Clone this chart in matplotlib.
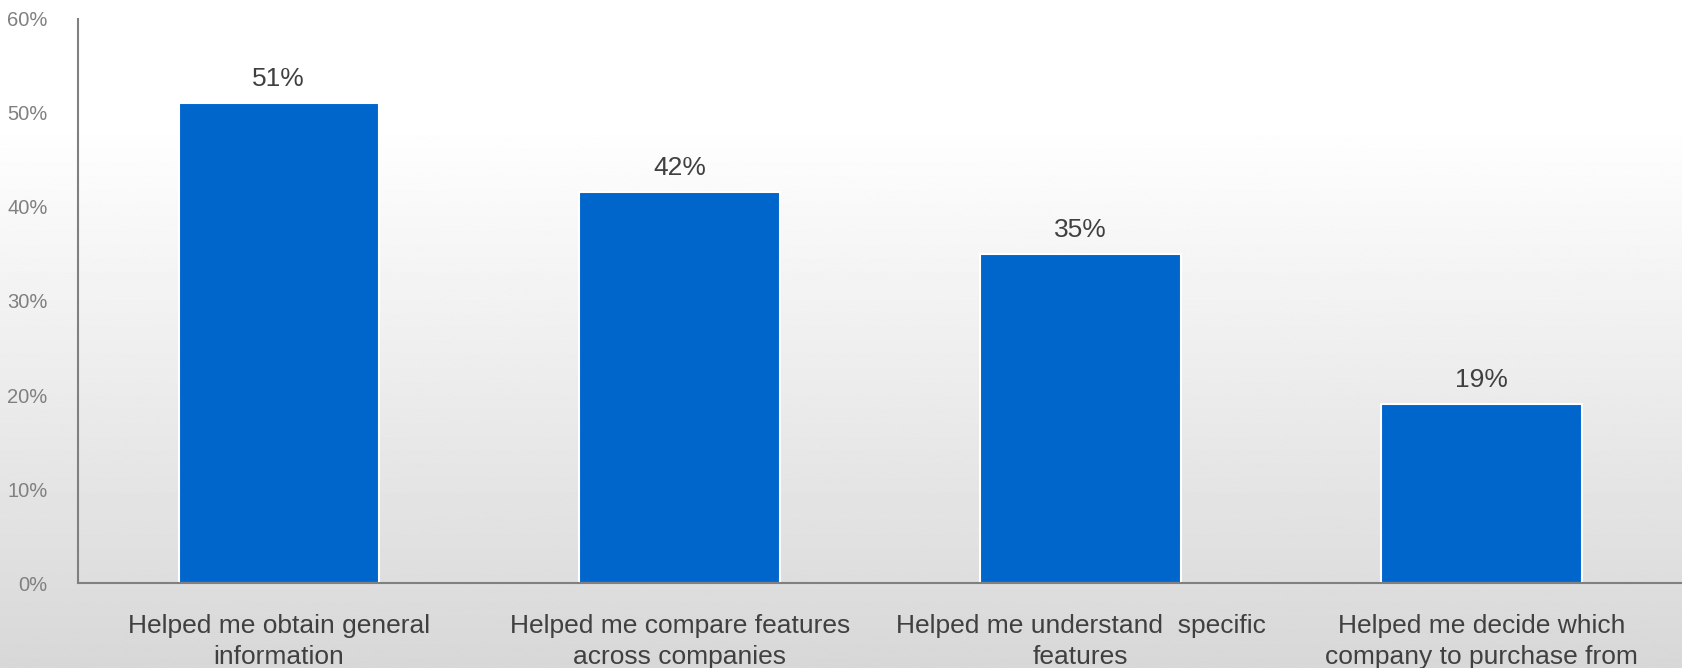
import numpy as np
import matplotlib.pyplot as plt
from matplotlib.ticker import FuncFormatter

# Dados do gráfico
categorias = ['Helped me obtain general\ninformation',
              'Helped me compare features\nacross companies',
              'Helped me understand  specific\nfeatures',
              'Helped me decide which\ncompany to purchase from']
valores = [51, 41.6, 35, 19]
rotulos = ['51%', '42%', '35%', '19%']
ticks_y = [0, 10, 20, 30, 40, 50, 60]

plt.rcParams['font.family'] = ['Liberation Sans', 'DejaVu Sans']

fig = plt.figure(figsize=(16.83, 6.68), dpi=100)

# Fundo em degradê (branco no topo, cinza embaixo)
fundo = fig.add_axes([0, 0, 1, 1], zorder=0)
t = np.linspace(0, 1, 400)
nivel = np.clip((t - 0.18) / 0.82, 0, 1)
cor = 1.0 - nivel * (1.0 - 0.845)
grad = np.repeat(cor[:, None], 2, axis=1)
fundo.imshow(grad, cmap='gray', vmin=0, vmax=1, aspect='auto', extent=[0, 1, 1, 0])
fundo.set_axis_off()

ax = fig.add_axes([0.0465, 0.127, 0.953, 0.845], zorder=1)
ax.set_facecolor('none')

x = np.arange(len(categorias))
ax.bar(x, valores, width=0.5, color='#0066CC', edgecolor='white', linewidth=1.5, zorder=2)

for xi, v, r in zip(x, valores, rotulos):
    ax.text(xi, v + 1.3, r, ha='center', va='bottom', fontsize=19, color='#404040')

ax.set_xlim(-0.5, 3.5)
ax.set_ylim(0, 60)
ax.set_yticks(ticks_y)
ax.yaxis.set_major_formatter(FuncFormatter(lambda v, p: f'{v:.0f}%'))
ax.set_xticks(x)
ax.set_xticklabels(categorias, fontsize=19, color='#404040', linespacing=1.4)

for lado in ['top', 'right']:
    ax.spines[lado].set_visible(False)
for lado in ['left', 'bottom']:
    ax.spines[lado].set_color('#808080')
    ax.spines[lado].set_linewidth(1.5)

ax.tick_params(axis='y', length=0, labelsize=14.5, labelcolor='#808080', pad=22)
ax.tick_params(axis='x', length=0, pad=22)

fig.savefig('out.png', dpi=100)
